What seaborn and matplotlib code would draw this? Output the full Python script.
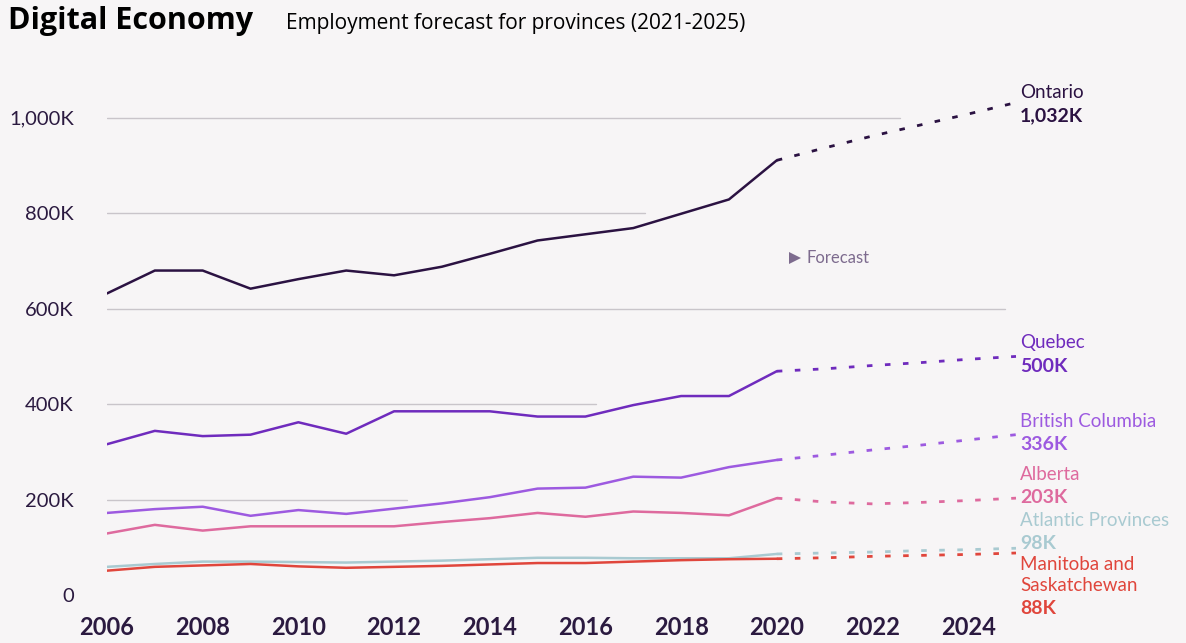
import matplotlib
matplotlib.use("Agg")
import matplotlib.pyplot as plt
import seaborn as sns
import pandas as pd

# ---------------- data ----------------
years_hist = list(range(2006, 2021))
years_fc = list(range(2020, 2026))

provinces = ["Ontario", "Quebec", "British Columbia", "Alberta",
             "Atlantic Provinces", "Manitoba and\nSaskatchewan"]
end_labels = ["1,032K", "500K", "336K", "203K", "98K", "88K"]

ontario_hist = [632, 680, 680, 642, 662, 680, 670, 688, 715, 743, 756, 769, 799, 829, 911]
quebec_hist = [316, 344, 333, 336, 362, 338, 385, 385, 385, 374, 374, 398, 417, 417, 469]
bc_hist = [172, 180, 185, 166, 178, 170, 181, 192, 205, 223, 225, 248, 246, 268, 283]
alberta_hist = [129, 147, 135, 144, 144, 144, 144, 153, 161, 172, 164, 175, 172, 167, 203]
atlantic_hist = [59, 65, 70, 70, 69, 68, 70, 72, 75, 78, 78, 77, 77, 77, 86]
manitoba_hist = [51, 59, 62, 65, 60, 57, 59, 61, 64, 67, 67, 70, 73, 75, 76]

ontario_fc = [911, 937, 962, 985, 1008, 1032]
quebec_fc = [469, 474, 481, 487, 494, 500]
bc_fc = [283, 293, 304, 314, 325, 336]
alberta_fc = [203, 195, 191, 194, 198, 203]
atlantic_fc = [86, 88, 90, 93, 95, 98]
manitoba_fc = [76, 78, 81, 83, 85, 88]

y_ticks = [0, 200, 400, 600, 800, 1000]
y_tick_labels = ["0", "200K", "400K", "600K", "800K", "1,000K"]
x_ticks = [2006, 2008, 2010, 2012, 2014, 2016, 2018, 2020, 2022, 2024]

# ---------------- style ----------------
colors = ["#2b1242", "#6f2bbd", "#9d5ae0", "#de6a9e", "#a9cad1", "#e0463c"]
# label offsets (pixels, upward positive) relative to the last forecast point
name_offsets_px = [10, 14, 13, 24, 28, -22]
value_offsets_px = [-13, -10, -10, 1, 5, -55]
grid_ends = {1000: 2022.57, 800: 2017.24, 600: 2024.76, 400: 2016.22, 200: 2012.27}
bg = "#f7f5f6"
text_dark = "#2b1a40"
PT = 0.72  # points per pixel at dpi=100

hist_series = [ontario_hist, quebec_hist, bc_hist, alberta_hist, atlantic_hist, manitoba_hist]
fc_series = [ontario_fc, quebec_fc, bc_fc, alberta_fc, atlantic_fc, manitoba_fc]

rows_h, rows_f = [], []
for p, vals in zip(provinces, hist_series):
    rows_h += [{"year": y, "value": v, "province": p} for y, v in zip(years_hist, vals)]
for p, vals in zip(provinces, fc_series):
    rows_f += [{"year": y, "value": v, "province": p} for y, v in zip(years_fc, vals)]
df_h = pd.DataFrame(rows_h)
df_f = pd.DataFrame(rows_f)

sns.set_theme(style="white")
plt.rcParams["font.family"] = ["Lato", "DejaVu Sans"]

fig = plt.figure(figsize=(11.86, 6.43), dpi=100, facecolor=bg)
ax = fig.add_axes([107 / 1186, 1 - 595 / 643, (1016 - 107) / 1186, (595 - 94) / 643])
ax.set_facecolor(bg)
ax.set_xlim(2006, 2025)
ax.set_ylim(0, 1050)

palette = dict(zip(provinces, colors))

# partial grid lines
for yv, xe in grid_ends.items():
    ax.axhline(yv, xmin=0, xmax=(xe - 2006) / 19, color="#c9c5ca", lw=1, zorder=0)

sns.lineplot(data=df_h, x="year", y="value", hue="province", palette=palette,
             hue_order=provinces, lw=1.8, legend=False, ax=ax, zorder=3)
n_before = len(ax.lines)
sns.lineplot(data=df_f, x="year", y="value", hue="province", palette=palette,
             hue_order=provinces, lw=2.0, legend=False, ax=ax, zorder=3)
for ln in ax.lines[n_before:]:
    ln.set_linestyle((0, (2, 4.5)))
    ln.set_clip_on(False)

# end labels
for p, lab, vals, col, no, vo in zip(provinces, end_labels, fc_series, colors,
                                     name_offsets_px, value_offsets_px):
    ax.annotate(p, xy=(2025, vals[-1]), xytext=(4 * PT, no * PT),
                textcoords="offset points", ha="left", va="center",
                fontsize=13.5, color=col, annotation_clip=False, linespacing=1.3)
    ax.annotate(lab, xy=(2025, vals[-1]), xytext=(4 * PT, vo * PT),
                textcoords="offset points", ha="left", va="center",
                fontsize=14, fontweight="bold", color=col, annotation_clip=False)

# forecast marker
ax.plot([2020.38], [706], marker=">", color="#7d6b8e", ms=8, mew=0, clip_on=False)
ax.text(2020.62, 706, "Forecast", color="#7d6b8e", fontsize=12, va="center", ha="left")

ax.set_yticks(y_ticks)
ax.set_yticklabels(y_tick_labels)
ax.set_xticks(x_ticks)
ax.set_xticklabels([str(x) for x in x_ticks])
ax.tick_params(axis="y", length=0, pad=24, labelsize=14.5, labelcolor=text_dark)
ax.tick_params(axis="x", length=0, pad=15, labelsize=17, labelcolor=text_dark)
for t in ax.get_xticklabels():
    t.set_fontweight("bold")
ax.set_xlabel("")
ax.set_ylabel("")
for s in ax.spines.values():
    s.set_visible(False)
ax.grid(False)

fig.text(8 / 1186, 1 - 21 / 643, "Digital Economy", fontsize=22, fontweight="bold",
         color="black", va="center", ha="left", family=["Open Sans", "DejaVu Sans"])
fig.text(286 / 1186, 1 - 24 / 643, "Employment forecast for provinces (2021-2025)",
         fontsize=15, color="black", va="center", ha="left", family=["Open Sans", "DejaVu Sans"])

fig.savefig("out.png", dpi=100, facecolor=bg)
